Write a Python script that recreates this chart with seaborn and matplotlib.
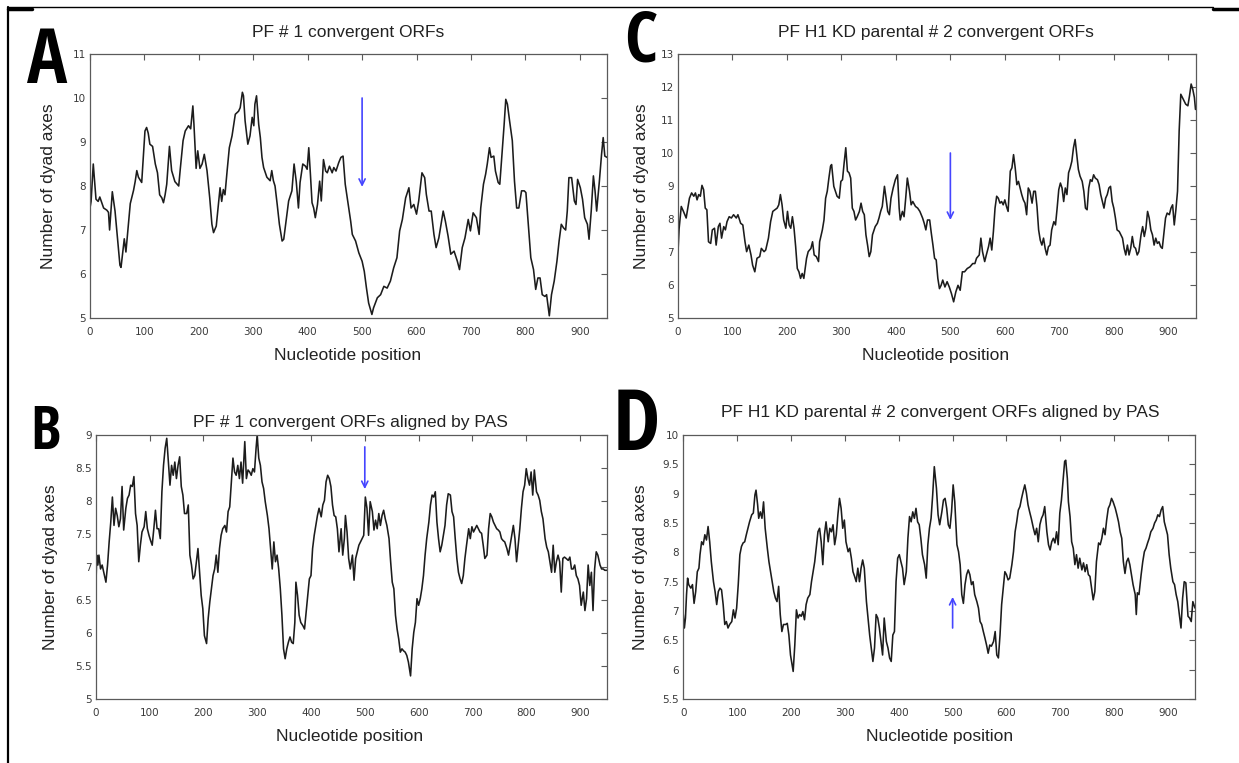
import matplotlib
matplotlib.use("Agg")
import matplotlib.pyplot as plt
import seaborn as sns
import pandas as pd
from matplotlib.lines import Line2D
from matplotlib.ticker import MultipleLocator, FuncFormatter
from matplotlib import font_manager

# ---------------- data ----------------
A_pos = [0, 2, 6, 11, 15, 18, 25, 31, 34, 36,
         41, 46, 55, 57, 63, 66, 74, 80, 83, 86,
         89, 95, 101, 104, 107, 110, 115, 120, 124, 128,
         132, 135, 138, 141, 146, 150, 156, 163, 166, 171,
         175, 181, 185, 189, 191, 195, 198, 202, 206, 210,
         215, 220, 224, 227, 232, 236, 239, 242, 245, 248,
         252, 256, 261, 267, 273, 276, 280, 282, 285, 290,
         294, 298, 301, 303, 306, 310, 313, 316, 319, 325,
         331, 334, 337, 340, 344, 348, 353, 356, 361, 365,
         371, 375, 379, 383, 386, 391, 396, 399, 402, 405,
         408, 411, 414, 418, 422, 425, 429, 433, 436, 440,
         445, 448, 452, 457, 461, 465, 469, 474, 479, 482,
         488, 494, 500, 504, 508, 512, 518, 521, 528, 534,
         540, 546, 552, 558, 564, 569, 574, 580, 586, 590,
         595, 600, 604, 610, 615, 618, 623, 627, 632, 636,
         641, 644, 649, 653, 658, 663, 669, 675, 679, 684,
         689, 695, 699, 704, 710, 715, 718, 723, 727, 730,
         734, 737, 742, 745, 750, 753, 758, 761, 764, 767,
         771, 776, 780, 784, 788, 793, 798, 801, 805, 810,
         815, 819, 823, 827, 831, 836, 839, 844, 848, 853,
         858, 862, 866, 870, 874, 877, 880, 885, 890, 893,
         896, 901, 905, 909, 914, 917, 921, 925, 928, 931,
         936, 940, 943, 946, 950]
A_val = [7.5, 7.65, 8.5, 7.7, 7.65, 7.75, 7.5, 7.45, 7.4, 7.0,
         7.87, 7.43, 6.2, 6.15, 6.8, 6.5, 7.6, 7.9, 8.1, 8.35,
         8.2, 8.08, 9.25, 9.33, 9.2, 8.95, 8.9, 8.5, 8.3, 7.8,
         7.73, 7.62, 7.8, 8.04, 8.9, 8.35, 8.1, 8.0, 8.4, 9.03,
         9.25, 9.37, 9.3, 9.82, 9.4, 8.4, 8.8, 8.4, 8.5, 8.72,
         8.35, 7.73, 7.13, 6.94, 7.09, 7.58, 7.96, 7.65, 7.92, 7.8,
         8.35, 8.87, 9.14, 9.63, 9.7, 9.78, 10.13, 10.05, 9.48, 8.95,
         9.14, 9.56, 9.37, 9.86, 10.05, 9.4, 9.1, 8.65, 8.42, 8.2,
         8.12, 8.35, 8.12, 8.0, 7.58, 7.13, 6.75, 6.79, 7.28, 7.66,
         7.89, 8.5, 8.1, 7.5, 8.08, 8.5, 8.45, 8.38, 8.87, 8.27,
         7.62, 7.5, 7.28, 7.58, 8.11, 7.66, 8.6, 8.34, 8.3, 8.45,
         8.3, 8.42, 8.34, 8.53, 8.65, 8.68, 8.04, 7.62, 7.2, 6.9,
         6.75, 6.48, 6.29, 6.06, 5.68, 5.34, 5.08, 5.23, 5.46, 5.53,
         5.72, 5.68, 5.84, 6.14, 6.37, 6.98, 7.24, 7.73, 7.96, 7.5,
         7.58, 7.36, 7.66, 8.3, 8.19, 7.81, 7.43, 7.43, 6.9, 6.6,
         6.82, 7.05, 7.43, 7.2, 6.86, 6.45, 6.52, 6.29, 6.1, 6.6,
         6.82, 7.24, 6.98, 7.39, 7.28, 6.9, 7.5, 8.04, 8.27, 8.5,
         8.87, 8.65, 8.68, 8.34, 8.08, 8.04, 8.87, 9.4, 9.97, 9.86,
         9.48, 9.03, 8.11, 7.5, 7.5, 7.89, 7.89, 7.85, 7.2, 6.37,
         6.1, 5.65, 5.91, 5.91, 5.53, 5.49, 5.53, 5.05, 5.53, 5.84,
         6.29, 6.75, 7.13, 7.05, 7.0, 7.43, 8.19, 8.19, 7.66, 7.58,
         8.15, 7.96, 7.7, 7.28, 7.13, 6.79, 7.43, 8.23, 7.89, 7.43,
         8.11, 8.72, 9.1, 8.68, 8.65]

C_pos = [0, 2, 6, 10, 15, 18, 21, 25, 29, 32,
         35, 38, 41, 44, 47, 50, 53, 56, 60, 63,
         67, 70, 74, 77, 80, 84, 87, 90, 94, 98,
         102, 107, 110, 115, 119, 123, 126, 130, 134, 137,
         141, 145, 150, 153, 158, 161, 166, 170, 174, 178,
         182, 185, 188, 191, 194, 198, 201, 204, 207, 210,
         213, 216, 219, 222, 225, 228, 231, 236, 239, 244,
         247, 250, 254, 258, 260, 265, 268, 271, 274, 277,
         280, 282, 286, 289, 292, 296, 299, 302, 305, 308,
         311, 314, 317, 320, 323, 326, 329, 333, 336, 339,
         342, 345, 348, 351, 354, 357, 362, 366, 369, 372,
         375, 379, 382, 385, 388, 391, 395, 399, 403, 406,
         408, 412, 415, 418, 421, 425, 428, 431, 436, 440,
         444, 449, 452, 455, 458, 462, 465, 468, 471, 474,
         477, 480, 483, 486, 490, 494, 498, 502, 506, 510,
         514, 518, 522, 526, 531, 536, 541, 545, 548, 553,
         556, 559, 563, 566, 570, 573, 576, 579, 582, 585,
         588, 591, 594, 597, 600, 603, 606, 610, 613, 616,
         619, 622, 625, 628, 631, 634, 637, 640, 643, 646,
         650, 653, 656, 659, 662, 665, 668, 671, 674, 677,
         680, 683, 686, 690, 693, 696, 699, 702, 705, 708,
         711, 714, 717, 720, 723, 726, 729, 732, 735, 738,
         742, 745, 748, 751, 754, 757, 760, 763, 766, 770,
         773, 776, 779, 782, 785, 788, 791, 794, 797, 800,
         803, 806, 810, 813, 816, 819, 822, 825, 828, 831,
         834, 837, 840, 843, 846, 850, 853, 856, 859, 862,
         865, 868, 871, 874, 877, 880, 883, 886, 889, 892,
         895, 898, 902, 905, 908, 911, 914, 917, 920, 923,
         926, 929, 932, 936, 939, 942, 945, 948, 950]
C_val = [7.0, 7.7, 8.38, 8.23, 8.03, 8.33, 8.63, 8.79, 8.69, 8.79,
         8.58, 8.74, 8.69, 9.02, 8.89, 8.33, 8.28, 7.31, 7.26, 7.67,
         7.72, 7.21, 7.77, 7.87, 7.42, 7.77, 7.67, 7.92, 8.07, 8.03,
         8.13, 8.03, 8.13, 7.87, 7.82, 7.31, 7.01, 7.21, 6.91, 6.6,
         6.4, 6.81, 6.86, 7.11, 7.01, 7.06, 7.42, 7.92, 8.23, 8.28,
         8.33, 8.43, 8.74, 8.43, 7.97, 7.72, 8.23, 7.82, 7.72, 8.07,
         7.72, 7.16, 6.5, 6.4, 6.2, 6.35, 6.2, 6.81, 7.01, 7.11,
         7.31, 6.91, 6.86, 6.71, 7.31, 7.67, 7.97, 8.63, 8.84, 9.24,
         9.6, 9.65, 8.99, 8.84, 8.69, 8.63, 9.14, 9.19, 9.7, 10.16,
         9.45, 9.4, 9.24, 8.33, 8.23, 7.97, 8.07, 8.23, 8.48, 8.23,
         8.13, 7.52, 7.21, 6.86, 7.01, 7.52, 7.77, 7.87, 8.03, 8.23,
         8.38, 8.99, 8.63, 8.23, 8.13, 8.63, 8.94, 9.19, 9.34, 8.33,
         7.97, 8.23, 8.07, 8.63, 9.24, 8.84, 8.43, 8.53, 8.38, 8.33,
         8.23, 8.03, 7.87, 7.67, 7.97, 7.97, 7.57, 7.21, 6.81, 6.76,
         6.2, 5.89, 5.99, 6.15, 5.94, 6.1, 5.94, 5.74, 5.49, 5.79,
         5.99, 5.84, 6.4, 6.4, 6.5, 6.55, 6.65, 6.65, 6.81, 6.91,
         7.42, 7.01, 6.71, 6.91, 7.16, 7.42, 7.06, 7.62, 8.33, 8.69,
         8.63, 8.48, 8.53, 8.43, 8.58, 8.38, 8.23, 9.45, 9.55, 9.95,
         9.55, 9.04, 9.14, 8.94, 8.74, 8.58, 8.48, 8.13, 8.94, 8.84,
         8.48, 8.84, 8.84, 8.38, 7.67, 7.36, 7.21, 7.42, 7.11, 6.91,
         7.16, 7.21, 7.67, 7.92, 7.82, 8.33, 8.89, 9.09, 8.94, 8.53,
         8.94, 8.74, 9.4, 9.55, 9.75, 10.16, 10.41, 9.95, 9.5, 9.3,
         9.14, 8.84, 8.33, 8.28, 8.94, 9.19, 9.14, 9.34, 9.24, 9.19,
         9.04, 8.74, 8.53, 8.33, 8.63, 8.74, 8.94, 8.99, 8.53, 8.33,
         8.03, 7.67, 7.62, 7.52, 7.42, 7.11, 6.91, 7.21, 6.91, 7.11,
         7.47, 7.16, 7.11, 6.91, 7.01, 7.52, 7.77, 7.47, 7.72, 8.23,
         8.03, 7.67, 7.52, 7.21, 7.42, 7.26, 7.31, 7.16, 7.11, 7.57,
         8.03, 8.18, 8.13, 8.33, 8.43, 7.82, 8.28, 8.84, 10.67, 11.78,
         11.68, 11.58, 11.48, 11.43, 11.73, 12.09, 11.93, 11.68, 11.32]

B_pos = [0, 2, 4, 6, 9, 12, 15, 19, 22, 25,
         28, 31, 34, 37, 40, 43, 46, 49, 52, 56,
         59, 62, 65, 68, 71, 74, 77, 80, 83, 86,
         90, 93, 96, 99, 102, 105, 108, 111, 114, 117,
         120, 123, 126, 129, 132, 135, 138, 141, 144, 147,
         150, 153, 156, 159, 162, 165, 169, 172, 175, 178,
         181, 184, 187, 190, 193, 196, 199, 202, 206, 209,
         212, 215, 218, 221, 224, 227, 230, 233, 236, 240,
         243, 246, 249, 252, 255, 258, 261, 264, 267, 270,
         273, 277, 280, 283, 286, 289, 292, 295, 298, 300,
         303, 306, 309, 312, 315, 319, 322, 325, 328, 331,
         334, 337, 340, 343, 346, 349, 352, 355, 358, 361,
         364, 367, 370, 372, 375, 378, 381, 385, 388, 391,
         394, 397, 400, 403, 406, 409, 412, 415, 419, 422,
         425, 428, 431, 434, 437, 440, 443, 446, 449, 452,
         456, 459, 462, 464, 467, 470, 473, 477, 480, 483,
         486, 489, 492, 495, 498, 501, 504, 507, 510, 514,
         517, 520, 523, 526, 529, 532, 535, 538, 541, 545,
         548, 551, 554, 557, 560, 563, 566, 569, 572, 575,
         578, 581, 585, 588, 591, 594, 597, 600, 603, 606,
         609, 612, 615, 619, 622, 625, 628, 631, 634, 637,
         640, 643, 646, 649, 652, 655, 659, 662, 665, 668,
         671, 674, 677, 680, 683, 686, 689, 693, 696, 699,
         702, 705, 708, 711, 714, 717, 720, 723, 727, 730,
         733, 736, 739, 742, 745, 748, 751, 754, 757, 760,
         764, 767, 770, 773, 776, 779, 782, 785, 788, 791,
         794, 797, 800, 803, 806, 809, 812, 815, 819, 822,
         825, 828, 831, 835, 838, 841, 844, 847, 850, 853,
         856, 859, 862, 865, 868, 871, 874, 878, 881, 884,
         887, 890, 893, 896, 899, 902, 906, 909, 912, 915,
         918, 921, 924, 927, 930, 933, 937, 940, 943, 946,
         950]
B_val = [6.62, 7.18, 7.03, 7.18, 6.97, 7.03, 6.92, 6.77, 7.03, 7.38,
         7.68, 8.06, 7.63, 7.89, 7.78, 7.61, 7.73, 8.22, 7.56, 7.89,
         8.04, 8.09, 8.24, 8.22, 8.37, 7.81, 7.63, 7.08, 7.33, 7.53,
         7.61, 7.84, 7.58, 7.48, 7.4, 7.33, 7.58, 7.86, 7.58, 7.58,
         7.43, 8.14, 8.54, 8.8, 8.95, 8.59, 8.24, 8.54, 8.39, 8.59,
         8.34, 8.54, 8.67, 8.22, 8.09, 7.81, 7.81, 7.94, 7.18, 7.03,
         6.82, 6.87, 7.08, 7.28, 6.92, 6.57, 6.37, 5.96, 5.84, 6.22,
         6.47, 6.67, 6.87, 6.97, 7.18, 6.92, 7.28, 7.48, 7.58, 7.63,
         7.53, 7.84, 7.91, 8.29, 8.65, 8.44, 8.39, 8.54, 8.34, 8.59,
         8.27, 8.9, 8.34, 8.47, 8.44, 8.39, 8.49, 8.44, 8.8, 9.0,
         8.65, 8.54, 8.29, 8.19, 7.99, 7.78, 7.58, 7.28, 6.97, 7.38,
         7.08, 7.18, 6.97, 6.67, 6.27, 5.76, 5.61, 5.76, 5.86, 5.94,
         5.86, 5.84, 6.16, 6.77, 6.57, 6.27, 6.16, 6.11, 6.06, 6.32,
         6.57, 6.82, 6.87, 7.28, 7.48, 7.63, 7.78, 7.89, 7.76, 7.94,
         8.01, 8.29, 8.39, 8.34, 8.22, 7.94, 7.78, 7.76, 7.58, 7.23,
         7.58, 7.18, 7.43, 7.78, 7.53, 7.13, 6.97, 7.18, 6.8, 7.13,
         7.23, 7.33, 7.38, 7.43, 7.48, 8.06, 7.89, 7.48, 7.99, 7.84,
         7.56, 7.71, 7.58, 7.81, 7.63, 7.78, 7.86, 7.73, 7.63, 7.43,
         7.08, 6.77, 6.67, 6.27, 6.06, 5.91, 5.71, 5.76, 5.73, 5.71,
         5.66, 5.56, 5.35, 5.76, 6.01, 6.16, 6.52, 6.42, 6.52, 6.67,
         6.87, 7.18, 7.43, 7.68, 7.94, 8.09, 8.06, 8.14, 7.68, 7.43,
         7.23, 7.33, 7.48, 7.63, 7.94, 8.11, 8.09, 7.84, 7.76, 7.43,
         7.13, 6.92, 6.82, 6.75, 6.87, 7.13, 7.33, 7.58, 7.43, 7.61,
         7.53, 7.58, 7.63, 7.58, 7.53, 7.51, 7.33, 7.13, 7.18, 7.58,
         7.81, 7.76, 7.68, 7.63, 7.58, 7.56, 7.53, 7.43, 7.4, 7.38,
         7.28, 7.18, 7.33, 7.48, 7.63, 7.43, 7.08, 7.33, 7.58, 7.89,
         8.14, 8.24, 8.49, 8.34, 8.24, 8.44, 8.09, 8.47, 8.14, 8.09,
         8.01, 7.84, 7.73, 7.43, 7.3, 7.23, 7.08, 6.92, 7.33, 6.92,
         7.08, 7.18, 7.08, 6.62, 7.13, 7.15, 7.13, 7.1, 7.15, 6.97,
         6.97, 7.03, 6.87, 6.82, 6.72, 6.42, 6.62, 6.34, 6.52, 7.03,
         6.72, 6.92, 6.34, 6.97, 7.23, 7.18, 7.03, 6.97, 6.97, 6.95,
         6.95]

D_pos = [0, 2, 4, 6, 8, 10, 14, 17, 20, 23,
         26, 29, 31, 34, 37, 40, 43, 46, 49, 52,
         56, 59, 62, 65, 68, 71, 74, 77, 80, 83,
         86, 90, 93, 96, 99, 102, 105, 108, 111, 114,
         117, 120, 123, 127, 130, 133, 135, 138, 140, 143,
         146, 149, 152, 156, 159, 162, 165, 168, 171, 174,
         177, 180, 183, 186, 190, 193, 196, 199, 202, 204,
         207, 210, 213, 216, 219, 222, 225, 228, 231, 235,
         238, 241, 244, 247, 250, 253, 256, 259, 262, 265,
         269, 272, 275, 278, 281, 284, 287, 290, 293, 296,
         299, 302, 306, 309, 312, 315, 318, 321, 324, 327,
         330, 333, 336, 340, 343, 346, 349, 352, 355, 358,
         361, 364, 367, 370, 373, 377, 380, 383, 386, 389,
         392, 395, 398, 401, 404, 407, 410, 414, 417, 420,
         423, 426, 429, 432, 435, 438, 441, 444, 448, 451,
         454, 457, 460, 463, 466, 470, 473, 476, 480, 483,
         486, 489, 492, 495, 498, 501, 504, 508, 511, 514,
         517, 520, 523, 526, 529, 532, 535, 538, 541, 545,
         548, 551, 554, 557, 560, 563, 566, 569, 572, 576,
         579, 582, 585, 588, 591, 594, 597, 600, 603, 606,
         610, 613, 616, 619, 622, 625, 628, 631, 634, 637,
         640, 643, 646, 650, 653, 656, 659, 662, 665, 668,
         671, 675, 678, 681, 684, 687, 690, 693, 696, 699,
         702, 705, 708, 710, 713, 715, 718, 721, 724, 727,
         730, 733, 736, 740, 743, 746, 749, 752, 755, 758,
         761, 764, 767, 771, 774, 777, 780, 783, 786, 789,
         792, 795, 798, 802, 805, 808, 811, 814, 817, 820,
         823, 826, 829, 832, 835, 839, 841, 843, 846, 850,
         853, 856, 859, 862, 865, 868, 872, 875, 878, 881,
         884, 887, 890, 893, 896, 899, 902, 905, 909, 912,
         915, 918, 921, 924, 927, 930, 933, 937, 940, 943,
         946, 950]
D_val = [6.94, 6.71, 6.88, 7.28, 7.56, 7.45, 7.39, 7.45, 7.13, 7.33,
         7.67, 7.73, 7.96, 8.18, 8.13, 8.3, 8.21, 8.44, 8.18, 7.84,
         7.5, 7.33, 7.11, 7.33, 7.39, 7.36, 7.11, 6.77, 6.82, 6.71,
         6.77, 6.82, 7.02, 6.88, 7.05, 7.45, 7.96, 8.1, 8.16, 8.18,
         8.3, 8.41, 8.52, 8.64, 8.67, 8.98, 9.06, 8.81, 8.58, 8.69,
         8.58, 8.86, 8.41, 8.07, 7.84, 7.67, 7.5, 7.33, 7.22, 7.16,
         7.42, 6.94, 6.65, 6.77, 6.77, 6.79, 6.59, 6.25, 6.08, 5.97,
         6.42, 7.02, 6.88, 6.94, 6.91, 6.99, 6.85, 7.11, 7.22, 7.28,
         7.5, 7.67, 7.84, 8.1, 8.35, 8.41, 8.18, 7.79, 8.3, 8.52,
         8.18, 8.41, 8.35, 8.47, 8.13, 8.3, 8.64, 8.92, 8.75, 8.41,
         8.55, 8.18, 8.01, 8.07, 7.9, 7.67, 7.59, 7.5, 7.73, 7.5,
         7.73, 7.87, 7.73, 7.16, 6.88, 6.59, 6.37, 6.14, 6.37, 6.94,
         6.88, 6.71, 6.48, 6.25, 6.88, 6.48, 6.37, 6.2, 6.14, 6.59,
         6.65, 7.5, 7.9, 7.96, 7.84, 7.73, 7.45, 7.67, 8.24, 8.61,
         8.52, 8.69, 8.58, 8.75, 8.52, 8.47, 8.24, 7.96, 7.79, 7.56,
         8.13, 8.41, 8.58, 8.98, 9.46, 9.09, 8.64, 8.47, 8.69, 8.89,
         8.92, 8.75, 8.47, 8.41, 8.69, 9.15, 8.86, 8.13, 8.01, 7.79,
         7.28, 7.13, 7.45, 7.62, 7.7, 7.62, 7.45, 7.5, 7.28, 7.16,
         7.05, 6.82, 6.77, 6.65, 6.54, 6.42, 6.28, 6.42, 6.4, 6.48,
         6.65, 6.25, 6.2, 6.59, 7.11, 7.39, 7.67, 7.62, 7.53, 7.56,
         7.79, 8.01, 8.35, 8.52, 8.72, 8.78, 8.92, 9.04, 9.15, 9.01,
         8.81, 8.69, 8.58, 8.41, 8.3, 8.41, 8.18, 8.47, 8.58, 8.64,
         8.78, 8.35, 8.13, 8.04, 8.18, 8.24, 8.16, 8.35, 8.13, 8.67,
         8.89, 9.21, 9.55, 9.57, 9.26, 8.86, 8.61, 8.18, 8.07, 7.79,
         7.96, 7.73, 7.9, 7.7, 7.82, 7.67, 7.79, 7.62, 7.59, 7.39,
         7.19, 7.33, 7.84, 8.16, 8.13, 8.24, 8.41, 8.3, 8.55, 8.75,
         8.81, 8.92, 8.86, 8.75, 8.64, 8.52, 8.35, 8.24, 7.84, 7.64,
         7.84, 7.9, 7.79, 7.62, 7.45, 7.28, 6.94, 7.31, 7.28, 7.62,
         7.84, 8.01, 8.07, 8.16, 8.24, 8.35, 8.41, 8.5, 8.55, 8.64,
         8.61, 8.72, 8.78, 8.52, 8.41, 8.3, 7.96, 7.73, 7.5, 7.45,
         7.28, 7.16, 6.94, 6.71, 7.22, 7.5, 7.48, 6.91, 6.88, 6.82,
         7.16, 7.05]

titles = {
    "A": "PF # 1 convergent ORFs",
    "B": "PF # 1 convergent ORFs aligned by PAS",
    "C": "PF H1 KD parental # 2 convergent ORFs",
    "D": "PF H1 KD parental # 2 convergent ORFs aligned by PAS",
}
x_ticks = [0, 100, 200, 300, 400, 500, 600, 700, 800, 900]
x_label = "Nucleotide position"
y_label = "Number of dyad axes"
# arrow (start value -> end value) at position 500
arrows = {"A": (10.0, 7.98), "B": (8.82, 8.18), "C": (10.0, 7.97), "D": (6.71, 7.24)}
arrow_pos = 500

# ---------------- styling / layout ----------------
sns.set_theme(style="white")
plt.rcParams["font.family"] = ["Liberation Sans", "DejaVu Sans"]

# a condensed face for the big panel letters, if one is installed
letter_family = ["DejaVu Sans"]
letter_stretch = "normal"
_names = {f.name for f in font_manager.fontManager.ttflist}
for cand in ["Liberation Sans Narrow", "DejaVu Sans Condensed", "Open Sans Condensed",
             "Roboto Condensed", "Noto Sans Condensed"]:
    if cand in _names:
        letter_family = [cand, "DejaVu Sans"]
        break
else:
    if any(f.name == "DejaVu Sans" and f.stretch in ("condensed", "semi-condensed", 600, 700)
           for f in font_manager.fontManager.ttflist):
        letter_stretch = "condensed"
    elif any(f.name == "Noto Sans" and str(f.stretch) in ("condensed", "semi-condensed")
             for f in font_manager.fontManager.ttflist):
        letter_family = ["Noto Sans", "DejaVu Sans"]
        letter_stretch = "condensed"

W, H = 1239, 763
fig = plt.figure(figsize=(W / 100, H / 100), dpi=100)
fig.patch.set_facecolor("white")

layout = {
    #      x0     x1    ytop ybot  ylim       ystep  title(x,y)   xlabel(x,y)  ylabel(x,y)  letter(x,baseline,capheight)
    "A": (90.0, 607.0, 54, 318, (5, 11), 1.0, (348, 33), (348, 355), (49, 186), (47, 83, 55)),
    "C": (678.0, 1195.5, 54, 318, (5, 13), 1.0, (936, 33), (936, 355), (641, 186), (641, 62, 52)),
    "B": (95.7, 607.0, 435, 699, (5, 9), 0.5, (350, 423), (350, 736), (51, 567), (45, 449, 44)),
    "D": (683.3, 1195.0, 435, 699, (5.5, 10), 0.5, (940, 413), (940, 736), (640, 567), (636, 450, 62)),
}
data = {"A": (A_pos, A_val), "B": (B_pos, B_val), "C": (C_pos, C_val), "D": (D_pos, D_val)}

spine_c = "#5a5a5a"
fmt = FuncFormatter(lambda v, p: f"{v:g}")

for key in ["A", "C", "B", "D"]:
    x0, x1, yt, yb, ylim, ystep, tpos, xlpos, ylpos, let = layout[key]
    ax = fig.add_axes([x0 / W, 1 - yb / H, (x1 - x0) / W, (yb - yt) / H])
    pos, val = data[key]
    df = pd.DataFrame({"pos": pos, "val": val})
    sns.lineplot(data=df, x="pos", y="val", ax=ax, color="#1c1c1c", lw=1.15,
                 estimator=None, sort=False)
    ax.set_xlim(0, 950)
    ax.set_ylim(*ylim)
    ax.set_xticks(x_ticks)
    ax.yaxis.set_major_locator(MultipleLocator(ystep))
    ax.yaxis.set_major_formatter(fmt)
    ax.tick_params(direction="in", length=4, width=0.8, color=spine_c,
                   top=True, right=True, labelsize=7.5, labelcolor="#3a3a3a")
    ax.tick_params(axis="x", pad=6.5)
    ax.tick_params(axis="y", pad=3)
    for lab in ax.get_xticklabels() + ax.get_yticklabels():
        lab.set_family(["DejaVu Sans"])
    for s in ax.spines.values():
        s.set_color(spine_c)
        s.set_linewidth(0.9)
    ax.grid(False)
    w = x1 - x0
    h = yb - yt
    ax.set_title(titles[key], fontsize=12.5, color="#222222", y=(yb - tpos[1]) / h,
                 va="center", pad=0)
    ax.title.set_x((tpos[0] - x0) / w)
    ax.set_xlabel(x_label, fontsize=12.5, color="#222222", va="center")
    ax.xaxis.set_label_coords((xlpos[0] - x0) / w, (yb - xlpos[1]) / h)
    ax.set_ylabel(y_label, fontsize=12.5, color="#222222", va="center", ha="center")
    ax.yaxis.set_label_coords((ylpos[0] - x0) / w, (yb - ylpos[1]) / h)
    # blue arrow
    a0, a1 = arrows[key]
    ax.annotate("", xy=(arrow_pos, a1), xytext=(arrow_pos, a0),
                arrowprops=dict(arrowstyle="->", color="#4545ff", lw=1.2,
                                mutation_scale=11, shrinkA=0, shrinkB=0))
    # panel letter
    fig.text(let[0] / W, 1 - let[1] / H, key, fontsize=let[2] / 0.73 / 1.389,
             family=letter_family, fontstretch=letter_stretch, fontweight="normal",
             ha="center", va="baseline", color="black")

# frame lines of the figure
tf = fig.transFigure
fig.add_artist(Line2D([8 / W, 1213 / W], [1 - 7 / H, 1 - 7 / H], color="black", lw=1.0, transform=tf))
fig.add_artist(Line2D([8 / W, 8 / W], [1 - 7 / H, 0], color="black", lw=1.6, transform=tf))
fig.add_artist(Line2D([8 / W, 32 / W], [1 - 9 / H, 1 - 9 / H], color="black", lw=2.5, transform=tf))
fig.add_artist(Line2D([1213 / W, 1239 / W], [1 - 8.5 / H, 1 - 8.5 / H], color="black", lw=2.5, transform=tf))

fig.savefig("out.png", dpi=100)
